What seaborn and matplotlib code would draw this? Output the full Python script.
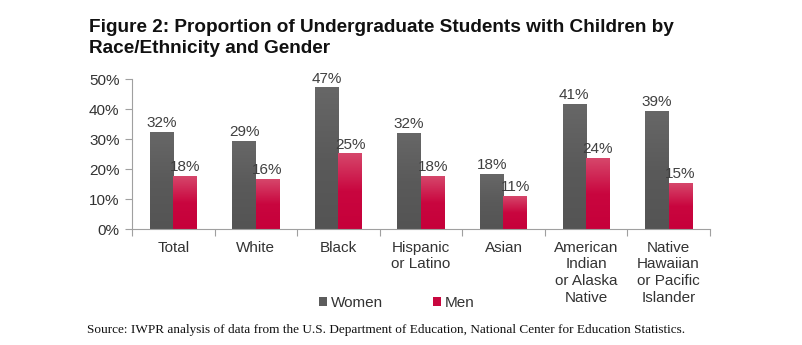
import matplotlib
matplotlib.use("Agg")
import matplotlib.pyplot as plt
import seaborn as sns
import pandas as pd
import numpy as np
from matplotlib.patches import Patch
from matplotlib.colors import LinearSegmentedColormap

categories = ["Total", "White", "Black", "Hispanic\nor Latino", "Asian",
              "American\nIndian\nor Alaska\nNative", "Native\nHawaiian\nor Pacific\nIslander"]
women = [32.1, 29.1, 47.0, 31.7, 18.2, 41.4, 39.2]
men = [17.6, 16.4, 25.0, 17.6, 10.9, 23.6, 15.3]
series = ["Women", "Men"]
yticks = [0, 10, 20, 30, 40, 50]

sns.set_theme(style="white")
plt.rcParams["font.family"] = ["Liberation Sans", "DejaVu Sans"]

df = pd.DataFrame({
    "category": categories * 2,
    "value": women + men,
    "series": ["Women"] * len(categories) + ["Men"] * len(categories),
})

fig = plt.figure(figsize=(8.02, 3.45), dpi=100)
ax = fig.add_axes([0.1646, 0.335, 0.7205, 0.435])
palette = {"Women": "#5c5c5c", "Men": "#c8073f"}
sns.barplot(data=df, x="category", y="value", hue="series", hue_order=series,
            order=categories, palette=palette, width=0.57, saturation=1,
            ax=ax, legend=False)

ax.set_ylim(0, 50)
ax.set_xlim(-0.5, len(categories) - 0.5)

# subtle vertical gradients like the original bars
cmaps = [
    LinearSegmentedColormap.from_list("w", ["#545454", "#5a5a5a", "#676767"]),
    LinearSegmentedColormap.from_list("m", ["#c6003a", "#c9063f", "#d6476b"]),
]
grad = np.linspace(0, 1, 128).reshape(-1, 1)
for cont, cm in zip(ax.containers, cmaps):
    for bar in cont:
        x0, y0 = bar.get_x(), bar.get_y()
        w, h = bar.get_width(), bar.get_height()
        ax.imshow(grad, extent=[x0, x0 + w, y0, y0 + h], origin="lower",
                  aspect="auto", cmap=cm, zorder=bar.get_zorder() + 0.1,
                  interpolation="bilinear")
ax.set_ylim(0, 50)
ax.set_xlim(-0.5, len(categories) - 0.5)
ax.set_aspect("auto")

for cont in ax.containers:
    ax.bar_label(cont, labels=[f"{v:.0f}%" for v in cont.datavalues],
                 padding=2, fontsize=11, color="#404040")

ax.set_yticks(yticks)
ax.set_yticklabels([f"{t}%" for t in yticks], fontsize=11, color="#333333")
ax.tick_params(axis="y", length=5, width=0.8, color="#a0a0a0", left=True, pad=4)
ax.tick_params(axis="x", length=0, labelsize=11, labelcolor="#333333", pad=8)
for lab in ax.get_xticklabels():
    lab.set_linespacing(1.25)
ax.set_xticks(np.arange(-0.5, len(categories), 1.0), minor=True)
ax.tick_params(axis="x", which="minor", length=5, width=0.8, color="#a0a0a0", bottom=True)
ax.set_xlabel("")
ax.set_ylabel("")
for s in ["top", "right"]:
    ax.spines[s].set_visible(False)
for s in ["left", "bottom"]:
    ax.spines[s].set_color("#a0a0a0")
    ax.spines[s].set_linewidth(0.8)
    ax.spines[s].set_zorder(5)

handles = [Patch(facecolor=palette[s], edgecolor="none") for s in series]
fig.legend(handles, series, loc="center", bbox_to_anchor=(0.495, 0.121), ncol=2,
           frameon=False, fontsize=11, handlelength=0.5, handleheight=0.5,
           handletextpad=0.25, columnspacing=3.3, labelcolor="#333333")

fig.text(0.111, 0.908, "Figure 2: Proportion of Undergraduate Students with Children by",
         fontsize=13.7, fontweight="bold", color="#111111", va="baseline", ha="left")
fig.text(0.111, 0.845, "Race/Ethnicity and Gender",
         fontsize=13.7, fontweight="bold", color="#111111", va="baseline", ha="left")
fig.text(0.109, 0.043, "Source: IWPR analysis of data from the U.S. Department of Education, National Center for Education Statistics.",
         fontsize=9.5, family=["Liberation Serif", "DejaVu Serif"], color="#111111", ha="left", va="center")

fig.savefig("out.png", dpi=100)
